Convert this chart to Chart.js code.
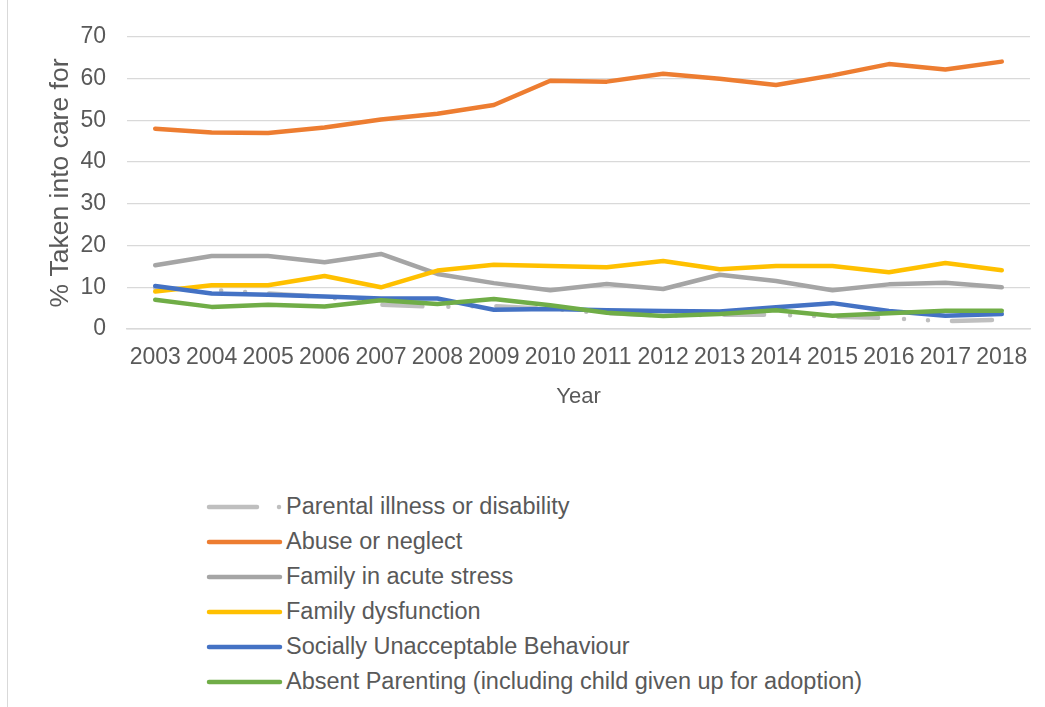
<!DOCTYPE html>
<html>
<head>
<meta charset="utf-8">
<script src="https://cdn.jsdelivr.net/npm/chart.js@4.4.1/dist/chart.umd.min.js"></script>
<style>
  html, body { margin: 0; padding: 0; background: #fff; }
  body { width: 1045px; height: 707px; position: relative; overflow: hidden;
         font-family: 'Liberation Sans', Arial, sans-serif; }
  #frame { position: absolute; left: 7px; top: 0; width: 1px; height: 707px; background: #d9d9d9; }
  #wrap { position: absolute; left: 0; top: 0; width: 1045px; height: 420px; }
  #legend { position: absolute; left: 205px; top: 489px; }
  .item { display: flex; align-items: center; height: 35px; color: #595959; font-size: 23.5px; }
  .item svg { margin-right: 3px; }
</style>
</head>
<body>
<div id="frame"></div>
<div id="wrap"><canvas id="chart"></canvas></div>
<div id="legend"></div>
<script>
const years = ["2003","2004","2005","2006","2007","2008","2009","2010","2011","2012","2013","2014","2015","2016","2017","2018"];
const yTicks = [0, 10, 20, 30, 40, 50, 60, 70];

const parentalIllness = [9.8, 9.4, 8.5, 7.7, 5.8, 5.3, 5.5, 4.8, 3.8, 3.2, 3.4, 3.4, 3.0, 2.6, 1.9, 2.2];
const abuseNeglect = [48.0, 47.1, 47.0, 48.3, 50.2, 51.6, 53.7, 59.5, 59.3, 61.2, 60.0, 58.5, 60.8, 63.5, 62.2, 64.1];
const acuteStress = [15.3, 17.5, 17.5, 16.0, 18.0, 13.2, 11.0, 9.3, 10.8, 9.6, 13.0, 11.5, 9.3, 10.7, 11.1, 10.0];
const dysfunction = [9.0, 10.5, 10.5, 12.7, 10.0, 14.0, 15.4, 15.1, 14.8, 16.3, 14.3, 15.1, 15.1, 13.6, 15.8, 14.1];
const socialBehaviour = [10.3, 8.5, 8.2, 7.8, 7.3, 7.3, 4.6, 4.8, 4.5, 4.3, 4.2, 5.2, 6.2, 4.3, 3.2, 3.6];
const absentParenting = [7.0, 5.3, 5.8, 5.4, 6.9, 6.0, 7.2, 5.7, 3.9, 3.1, 3.6, 4.5, 3.2, 3.8, 4.4, 4.4];

const seriesNames = [
  "Parental illness or disability",
  "Abuse or neglect",
  "Family in acute stress",
  "Family dysfunction",
  "Socially Unacceptable Behaviour",
  "Absent Parenting (including child given up for adoption)"
];
const seriesData = [parentalIllness, abuseNeglect, acuteStress, dysfunction, socialBehaviour, absentParenting];
const seriesColors = ["#bfbfbf", "#ed7d31", "#a5a5a5", "#ffc000", "#4472c4", "#70ad47"];
const parentalDash = [40, 26, 0, 24, 0, 24];

const textColor = "#595959";
const gridColor = "#d9d9d9";
const fontFamily = "'Liberation Sans', Arial, sans-serif";

// later series drawn on top, like the original
const datasets = seriesNames.map((name, i) => ({
  label: name,
  data: seriesData[i],
  borderColor: seriesColors[i],
  backgroundColor: seriesColors[i],
  borderWidth: 4.5,
  borderCapStyle: "round",
  borderJoinStyle: "round",
  borderDash: i === 0 ? parentalDash : [],
  pointRadius: 0,
  tension: 0,
  fill: false,
  order: seriesNames.length - i
}));

new Chart(document.getElementById("chart"), {
  type: "line",
  data: { labels: years, datasets: datasets },
  options: {
    responsive: true,
    maintainAspectRatio: false,
    animation: false,
    layout: { padding: { left: 41, right: 15, top: 37, bottom: 6 } },
    plugins: { legend: { display: false }, tooltip: { enabled: false } },
    scales: {
      x: {
        offset: true,
        grid: { display: false, drawTicks: false },
        border: { display: true, color: gridColor, width: 1.5 },
        ticks: {
          color: textColor, font: { family: fontFamily, size: 23 },
          padding: 15, autoSkip: false, maxRotation: 0
        },
        title: {
          display: true, text: "Year", color: textColor,
          font: { family: fontFamily, size: 22 }, padding: { top: 4, bottom: 4 }
        },
        afterFit(scale) { scale.height = 85; }
      },
      y: {
        min: 0, max: 70,
        afterBuildTicks(scale) { scale.ticks = yTicks.map(v => ({ value: v })); },
        grid: { color: gridColor, lineWidth: 1.3, drawTicks: false },
        border: { display: false },
        ticks: { color: textColor, font: { family: fontFamily, size: 23 }, padding: 21 },
        title: {
          display: true, text: "% Taken into care for", color: textColor,
          font: { family: fontFamily, size: 26.5 }, padding: { top: 4, bottom: 4 }
        },
        afterFit(scale) { scale.width = 86; }
      }
    }
  }
});

// legend, one entry per row
const legend = document.getElementById("legend");
seriesNames.forEach((name, i) => {
  const row = document.createElement("div");
  row.className = "item";
  const dash = i === 0 ? ' stroke-dasharray="48 22 0 100"' : "";
  row.innerHTML =
    `<svg width="78" height="12"><line x1="4" y1="6" x2="75" y2="6" stroke="${seriesColors[i]}" stroke-width="4.5" stroke-linecap="round"${dash}/></svg>` +
    `<span>${name}</span>`;
  legend.appendChild(row);
});
</script>
</body>
</html>
